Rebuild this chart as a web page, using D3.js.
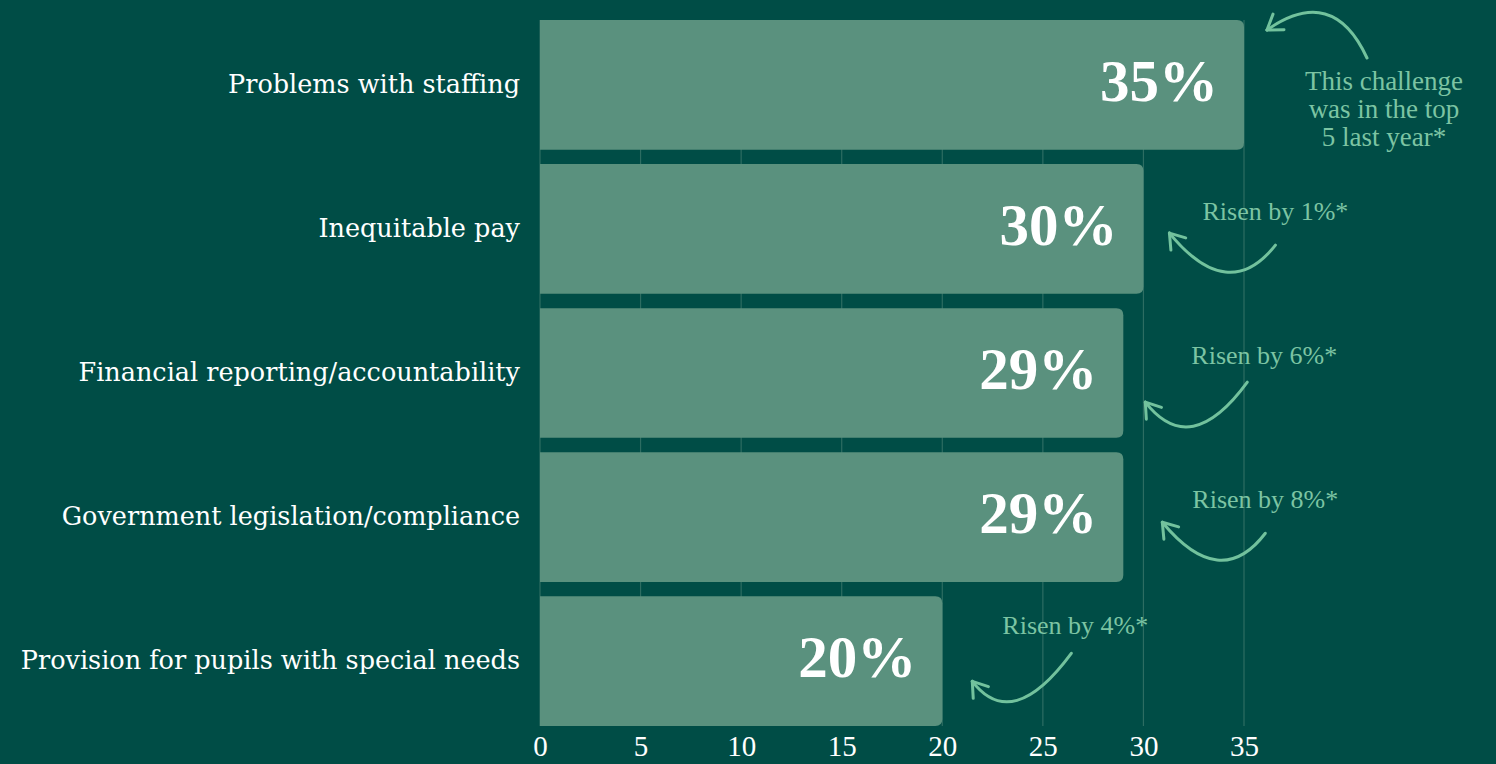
<!DOCTYPE html>
<html>
<head>
<meta charset="utf-8">
<script src="https://cdn.jsdelivr.net/npm/d3@7"></script>
<style>
  html, body { margin: 0; padding: 0; background: #004d46; overflow: hidden; }
  svg { display: block; }
</style>
</head>
<body>
<svg id="chart" width="1496" height="764"></svg>
<script>
// Top challenges, share of respondents (%)
const categories = [
  "Problems with staffing",
  "Inequitable pay",
  "Financial reporting/accountability",
  "Government legislation/compliance",
  "Provision for pupils with special needs"
];
const values = [35, 30, 29, 29, 20];
const notes = [
  ["This challenge", "was in the top", "5 last year*"],
  ["Risen by 1%*"],
  ["Risen by 6%*"],
  ["Risen by 8%*"],
  ["Risen by 4%*"]
];
const tickValues = [0, 5, 10, 15, 20, 25, 30, 35];

const W = 1496, H = 764;
const margin = { left: 540, right: 252, top: 20, bottom: 38 };

const BG = "#004d46", BAR = "#5a917e", GRID = "#2d6d62",
      NOTE = "#7cc4a3", ARROW = "#72c29d", WHITE = "#ffffff";

const svg = d3.select("#chart");
svg.append("rect").attr("width", W).attr("height", H).attr("fill", BG);

const x = d3.scaleLinear().domain([0, 35]).range([margin.left, W - margin.right]);
const y = d3.scaleBand().domain(categories)
  .range([margin.top, H - margin.bottom]).paddingInner(0.1).paddingOuter(0);

// vertical gridlines
svg.append("g").selectAll("line").data(tickValues).join("line")
  .attr("x1", d => x(d)).attr("x2", d => x(d))
  .attr("y1", margin.top).attr("y2", H - margin.bottom)
  .attr("stroke", GRID).attr("stroke-width", 1.2);

// bars with rounded right-hand corners
const r = 7;
function barPath(x0, x1, y0, h) {
  return `M${x0},${y0}H${x1 - r}Q${x1},${y0} ${x1},${y0 + r}` +
         `V${y0 + h - r}Q${x1},${y0 + h} ${x1 - r},${y0 + h}H${x0}Z`;
}
const rows = categories.map((c, i) => ({ c, v: values[i], note: notes[i], i }));

svg.append("g").selectAll("path").data(rows).join("path")
  .attr("d", d => barPath(x(0), x(d.v), y(d.c), y.bandwidth()))
  .attr("fill", BAR);

// value labels inside bar ends
svg.append("g").selectAll("text").data(rows).join("text")
  .attr("x", d => x(d.v) - 26)
  .attr("y", d => y(d.c) + y.bandwidth() / 2 + 16)
  .attr("text-anchor", "end")
  .attr("font-family", "'Liberation Serif', serif")
  .attr("font-weight", "bold")
  .attr("font-size", 59)
  .attr("fill", WHITE)
  .text(d => d.v + "%");

// category labels
svg.append("g").selectAll("text").data(rows).join("text")
  .attr("x", margin.left - 20)
  .attr("y", d => y(d.c) + y.bandwidth() / 2 + 8)
  .attr("text-anchor", "end")
  .attr("font-family", "'DejaVu Serif', serif")
  .attr("font-size", 25.5)
  .attr("fill", WHITE)
  .text(d => d.c);

// x axis tick labels
const axis = d3.axisBottom(x).tickValues(tickValues).tickSize(0).tickPadding(0);
const ax = svg.append("g").attr("transform", `translate(0,${H - 24})`).call(axis);
ax.select(".domain").remove();
ax.selectAll("text")
  .attr("dy", 0).attr("y", 16)
  .attr("font-family", "'Liberation Serif', serif")
  .attr("font-size", 29)
  .attr("fill", WHITE);

// annotations: text and curved arrow, offsets relative to each bar end
const notePos = [
  { tx: 140, ty: 70, s: [123, 38], c: [89, -36], t: [23, 10] },
  { tx: 132, ty: 56, s: [132, 81], c: [85, 141], t: [26, 69] },
  { tx: 141, ty: 56, s: [124, 74], c: [67, 152], t: [22, 94] },
  { tx: 142, ty: 56, s: [142, 81], c: [97, 140], t: [39, 70] },
  { tx: 133, ty: 38, s: [129, 57], c: [70, 137], t: [30, 85] }
];

const ann = svg.append("g");
rows.forEach((d, i) => {
  const p = notePos[i];
  const bx = x(d.v), by = y(d.c);
  const txt = ann.append("text")
    .attr("text-anchor", "middle")
    .attr("font-family", "'Liberation Serif', serif")
    .attr("font-size", i === 0 ? 27 : 26)
    .attr("fill", NOTE);
  d.note.forEach((line, k) => {
    txt.append("tspan").attr("x", bx + p.tx).attr("y", by + p.ty + k * 28).text(line);
  });

  const S = [bx + p.s[0], by + p.s[1]];
  const C = [bx + p.c[0], by + p.c[1]];
  const T = [bx + p.t[0], by + p.t[1]];
  const path = d3.path();
  path.moveTo(S[0], S[1]);
  path.quadraticCurveTo(C[0], C[1], T[0], T[1]);
  ann.append("path").attr("d", path.toString())
    .attr("fill", "none").attr("stroke", ARROW)
    .attr("stroke-width", 3).attr("stroke-linecap", "round");

  // arrowhead arms from the tip, spread around the tangent direction
  const ang = Math.atan2(C[1] - T[1], C[0] - T[0]);
  const len = 17, spread = 0.6;
  [ang - spread, ang + spread].forEach(a => {
    ann.append("line")
      .attr("x1", T[0]).attr("y1", T[1])
      .attr("x2", T[0] + len * Math.cos(a)).attr("y2", T[1] + len * Math.sin(a))
      .attr("stroke", ARROW).attr("stroke-width", 3).attr("stroke-linecap", "round");
  });
});
</script>
</body>
</html>
